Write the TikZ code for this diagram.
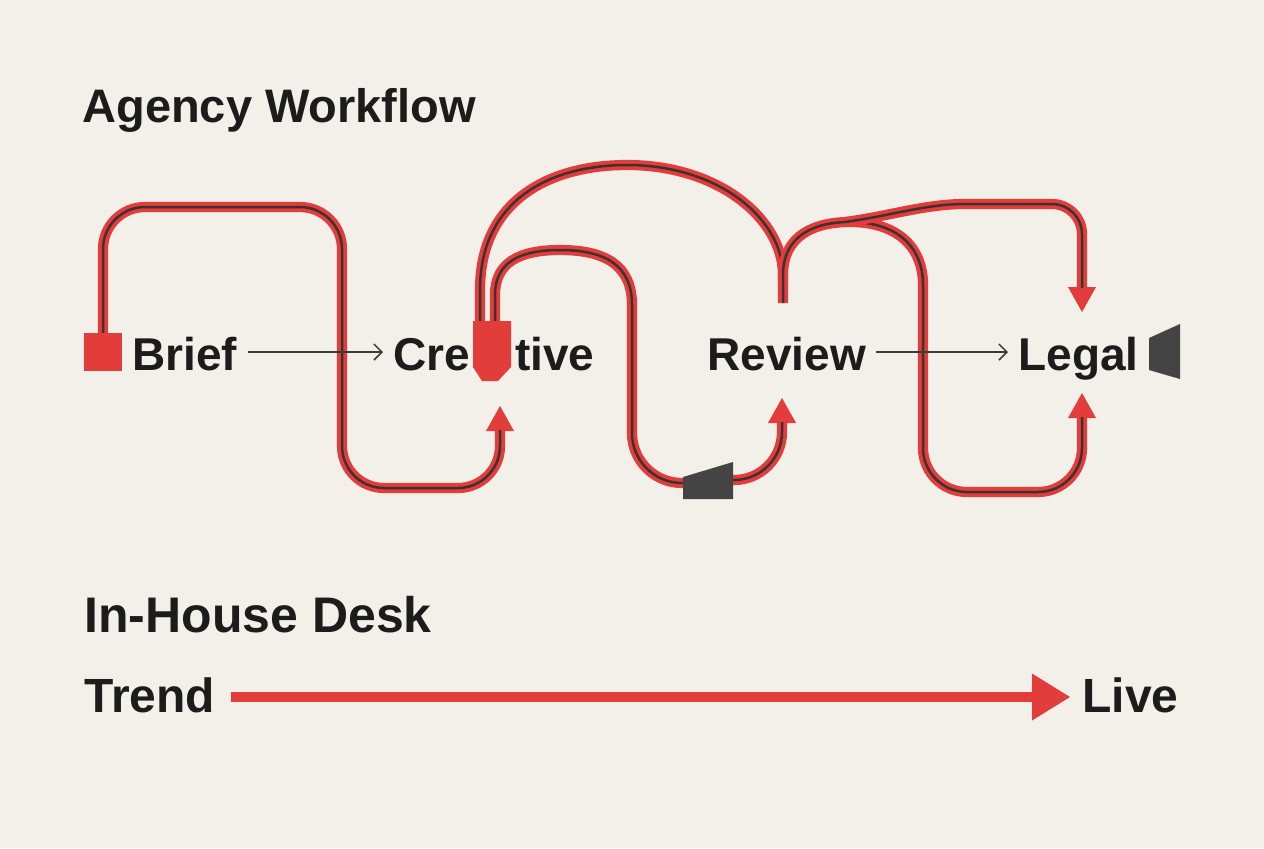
\documentclass[tikz,border=0pt]{standalone}
\usepackage{fontspec}
\setmainfont{Liberation Sans}
\usetikzlibrary{arrows.meta}
\definecolor{bg}{HTML}{F2F0E9}
\definecolor{wred}{HTML}{E33D3B}
\definecolor{wdark}{HTML}{3E3131}
\definecolor{ink}{HTML}{1C1C1C}
\definecolor{slate}{HTML}{444444}
\definecolor{thinline}{HTML}{3A3A3A}
\tikzset{
  wirered/.style={draw=wred, line width=5.1pt, line cap=butt},
  wiredark/.style={draw=wdark, line width=1.25pt, line cap=butt},
  wiretip/.style={-{Triangle[length=12.5pt 0,width=14pt 0,line width=0pt]}},
  label/.style={inner sep=0pt, anchor=base west, text=ink, font=\bfseries\fontsize{23pt}{27pt}\selectfont, text height=18pt, text depth=0pt},
  heading/.style={inner sep=0pt, anchor=base west, text=ink, font=\bfseries\fontsize{23.5pt}{28pt}\selectfont},
  biglabel/.style={inner sep=0pt, anchor=base west, text=ink, font=\bfseries\fontsize{24pt}{28pt}\selectfont, text height=15pt, text depth=0pt},
  thinarrow/.style={draw=thinline, line width=0.75pt, -{Straight Barb[length=4pt 0,width=8pt 0]}, shorten <=5pt, shorten >=5pt},
  bigarrow/.style={draw=wred, line width=5pt, -{Triangle[length=19pt 0,width=23.5pt 0,line width=0pt]}}
}
\newcommand\wirewithtip[1]{\draw[wirered,wiretip] #1; \draw[wiredark,shorten >=12pt] #1;}
\newcommand\wireplain[1]{\draw[wirered] #1; \draw[wiredark] #1;}
\begin{document}
\begin{tikzpicture}[x=0.5pt,y=-0.5pt]
\fill[bg] (0,0) rectangle (1264,848);
\useasboundingbox (0,0) rectangle (1264,848);

% headings
\node[heading] (agency) at (82,122) {Agency Workflow};
\node[heading, font=\bfseries\fontsize{25pt}{29pt}\selectfont] (inhouse) at (84,632) {In-House Desk};

% labels
\node[label] (brief) at (132,370) {Brief};
\node[label] (creative) at (393,370) {Cre\makebox[22.5pt][c]{a}tive};
\node[label] (review) at (707,370) {Review};
\node[label] (legal) at (1018,370) {Legal};
\node[biglabel] (trend) at (84,712) {Trend};
\node[biglabel] (live) at (1082,712) {Live};

% wires
\wirewithtip{(103,345) [rounded corners=21pt] -- (103,207) -- (342,207) -- (342,488) -- (500,488) -- (500,406)}
\wireplain{(495,330) -- (495,295) .. controls (495,262) and (520,250) .. (560,250) .. controls (605,250) and (632,265) .. (632,305) [rounded corners=25pt] -- (632,483) -- (700,483)}
\wirewithtip{(720,480) [rounded corners=24pt] -- (782,480) -- (782,398)}
\wireplain{(480,330) -- (480,290) .. controls (480,200) and (550,165) .. (627,165) .. controls (720,165) and (783,220) .. (783,275) -- (783,303)}
\wirewithtip{(783,285) -- (783,275) .. controls (783,235) and (815,222) .. (850,222) .. controls (895,222) and (923,245) .. (923,285) [rounded corners=22pt] -- (923,492) -- (1082,492) -- (1082,393)}
\wirewithtip{(845,222) .. controls (890,216) and (925,204) .. (965,204) [rounded corners=15pt] -- (1082,204) -- (1082,312)}

% markers
\node[fill=wred, minimum size=19pt, inner sep=0pt] (briefmark) at (103,352) {};
\fill[wred] (473,321) -- (511,321) -- (511,367) -- (498,381) -- (482,381) -- (473,367) -- cycle;
\fill[slate] (683,499) -- (733,499) -- (733,462) -- (683,477) -- cycle;
\fill[slate] (1149,338) -- (1180,324) -- (1180,379) -- (1149,370) -- cycle;

% thin arrows
\draw[thinarrow] (brief) -- (creative);
\draw[thinarrow] (review) -- (legal);

% in-house arrow
\draw[bigarrow, shorten <=8pt, shorten >=6pt] (trend) -- (live);
\end{tikzpicture}
\end{document}
